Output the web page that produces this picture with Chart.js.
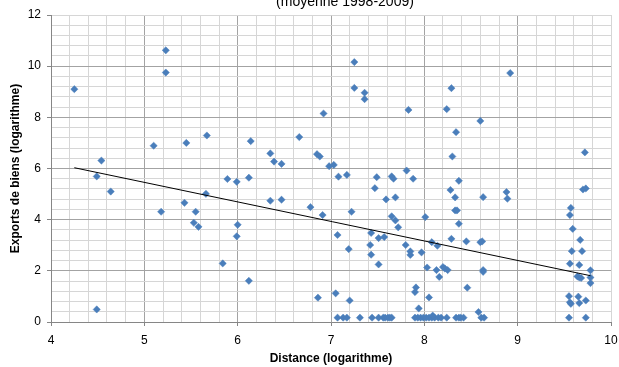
<!DOCTYPE html>
<html>
<head>
<meta charset="utf-8">
<script src="https://cdn.jsdelivr.net/npm/chart.js@4"></script>
<style>
  html, body { margin: 0; padding: 0; background: #fff; }
  #wrap { width: 619px; height: 367px; }
</style>
</head>
<body>
<div id="wrap"><canvas id="chart" width="619" height="367"></canvas></div>
<script>
// Distance (log) and exports (log), one entry per country pair
const distance = [
  4.25, 5.23, 5.23, 4.54, 4.49, 4.64, 5.10, 5.45, 5.67, 5.89,
  5.99, 5.66, 5.18, 5.43, 5.55, 5.53, 5.58, 6.00, 5.99, 4.49,
  5.84, 7.25, 7.25, 7.36, 7.36, 7.83, 6.92, 6.14, 6.12, 6.35,
  6.39, 6.47, 6.66, 6.85, 6.88, 6.98, 7.03, 7.08, 7.17, 6.35,
  6.47, 6.78, 6.91, 7.22, 7.49, 7.65, 7.67, 7.81, 7.88, 7.47,
  7.59, 7.69, 8.01, 7.65, 7.69, 7.72, 7.07, 7.43, 7.51, 7.57,
  7.42, 7.43, 7.51, 7.19, 7.80, 7.85, 7.85, 7.97, 8.03, 6.12,
  6.86, 7.05, 7.20, 7.91, 7.90, 7.94, 8.05,
  7.07, 7.13, 7.17, 7.31, 7.44, 7.51, 7.56, 7.58, 7.61, 7.63,
  7.65, 7.90, 7.93, 7.96, 7.99, 8.02, 8.05, 8.08, 8.11, 8.15,
  8.18, 8.24, 8.34, 8.37, 8.39, 8.42, 8.61, 8.64, 9.55, 9.73,
  8.09, 8.58, 8.08, 8.14, 8.29, 8.45, 8.60, 8.62, 8.13, 8.16,
  8.20, 8.22, 8.25, 8.46, 8.63, 8.63, 9.67, 9.58, 9.69, 9.56,
  9.66, 9.78, 9.64, 9.66, 9.68, 9.78, 9.78, 9.55, 9.56, 9.57,
  9.65, 9.66, 9.73, 8.60, 8.34, 8.30, 9.72, 8.37, 8.28, 8.33,
  8.63, 8.88, 8.89, 9.70, 9.73, 8.33, 8.35, 8.37, 9.57, 9.56,
  9.59, 8.92, 8.29, 8.24
];
const exportsLog = [
  9.10, 10.62, 9.75, 6.31, 5.69, 5.10, 6.89, 7.00, 7.29, 5.59,
  5.48, 5.01, 4.31, 4.66, 4.31, 3.88, 3.72, 3.80, 3.35, 0.49,
  2.29, 10.16, 9.15, 8.96, 8.71, 8.29, 8.15, 7.07, 5.64, 6.59,
  6.27, 6.18, 7.23, 6.56, 6.47, 6.09, 6.14, 5.68, 5.75, 4.74,
  4.78, 4.49, 4.18, 4.31, 5.66, 5.69, 5.60, 5.92, 5.60, 5.23,
  4.79, 4.87, 4.10, 4.13, 3.97, 3.70, 3.40, 3.48, 3.28, 3.32,
  3.01, 2.63, 2.25, 2.85, 3.01, 2.76, 2.62, 2.72, 2.13, 1.61,
  0.95, 1.12, 0.84, 1.35, 1.17, 0.53, 0.96,
  0.17, 0.17, 0.17, 0.17, 0.17, 0.17, 0.17, 0.17, 0.17, 0.17,
  0.17, 0.17, 0.17, 0.17, 0.17, 0.17, 0.17, 0.17, 0.17, 0.17,
  0.17, 0.17, 0.17, 0.17, 0.17, 0.17, 0.17, 0.17, 0.17, 0.17,
  0.25, 0.39, 3.12, 2.98, 3.25, 3.15, 3.12, 3.15, 2.03, 1.76,
  2.15, 2.09, 2.03, 1.34, 2.03, 1.96, 3.21, 2.77, 2.77, 2.28,
  2.23, 2.02, 1.78, 1.74, 1.72, 1.74, 1.52, 1.01, 0.77, 0.71,
  0.99, 0.74, 0.84, 7.86, 7.42, 6.47, 6.63, 5.52, 5.16, 4.87,
  4.88, 5.08, 4.82, 5.18, 5.22, 4.36, 4.36, 3.84, 4.46, 4.18,
  3.64, 9.73, 9.14, 8.32
];

// Linear trend line end points
const trendDistance = [4.25, 9.78];
const trendExports = [6.03, 1.81];

const subtitle = "(moyenne 1998-2009)";
const xTitle = "Distance (logarithme)";
const yTitle = "Exports de biens (logarithme)";

const FONT = '"Liberation Sans", Arial, sans-serif';
const MAJOR = "#a3a3a3";
const MINOR = "#d6d6d6";
const AXIS = "#868686";

const isWhole = (v, step) => Math.abs(v / step - Math.round(v / step)) < 1e-6;

const points = distance.map((d, i) => ({ x: d, y: exportsLog[i] }));
const trend = trendDistance.map((d, i) => ({ x: d, y: trendExports[i] }));

// small subtitle that sits at the very top edge
const subtitlePlugin = {
  id: "subtitleTop",
  afterDraw(chart) {
    const ctx = chart.ctx;
    ctx.save();
    ctx.font = "14px " + FONT;
    ctx.fillStyle = "#000";
    ctx.textAlign = "center";
    ctx.textBaseline = "alphabetic";
    ctx.fillText(subtitle, 345, 5.5);
    ctx.restore();
  }
};

new Chart(document.getElementById("chart"), {
  type: "scatter",
  data: {
    datasets: [
      {
        type: "line",
        data: trend,
        borderColor: "#000",
        borderWidth: 1,
        pointRadius: 0,
        fill: false
      },
      {
        data: points,
        pointStyle: "rectRot",
        pointRadius: 3.6,
        pointBackgroundColor: "#4a7ebb",
        pointBorderColor: "#4a7ebb",
        pointBorderWidth: 0.5
      }
    ]
  },
  options: {
    responsive: false,
    animation: false,
    layout: { padding: { top: 15, right: 8, left: 0, bottom: 0 } },
    plugins: {
      legend: { display: false },
      tooltip: { enabled: false }
    },
    scales: {
      x: {
        type: "linear",
        min: 4,
        max: 10,
        afterFit: s => {
          s.height = 45;
          s.paddingLeft = 0;
          s.paddingRight = 0;
        },
        border: { color: AXIS, width: 1 },
        grid: {
          color: c => {
            const v = c.tick ? c.tick.value : 0;
            if (v > 9.999) return MINOR;
            return isWhole(v, 1) ? MAJOR : MINOR;
          },
          tickLength: 4,
          tickColor: c => (c.tick && isWhole(c.tick.value, 1) ? AXIS : "rgba(0,0,0,0)")
        },
        ticks: {
          stepSize: 0.2,
          autoSkip: false,
          maxRotation: 0,
          padding: 7,
          color: "#000",
          font: { family: FONT, size: 12 },
          callback: v => (isWhole(v, 1) ? Math.round(v) : "")
        },
        title: {
          display: true,
          text: xTitle,
          color: "#000",
          font: { family: FONT, size: 12, weight: "bold" },
          padding: { top: 0, bottom: 1 }
        }
      },
      y: {
        type: "linear",
        min: 0,
        max: 12,
        afterFit: s => {
          s.width = 51;
          s.paddingTop = 0;
          s.paddingBottom = 0;
        },
        border: { color: AXIS, width: 1 },
        grid: {
          color: c => {
            const v = c.tick ? c.tick.value : 0;
            if (v > 11.999) return MINOR;
            return isWhole(v, 2) ? MAJOR : MINOR;
          },
          tickLength: 4,
          tickColor: c => (c.tick && isWhole(c.tick.value, 2) ? AXIS : "rgba(0,0,0,0)")
        },
        ticks: {
          stepSize: 0.4,
          autoSkip: false,
          padding: 6,
          color: "#000",
          font: { family: FONT, size: 12 },
          callback: v => (isWhole(v, 2) ? Math.round(v) : "")
        },
        title: {
          display: true,
          text: yTitle,
          color: "#000",
          font: { family: FONT, size: 12, weight: "bold" },
          padding: { top: 8, bottom: 0 }
        }
      }
    }
  },
  plugins: [subtitlePlugin]
});
</script>
</body>
</html>
